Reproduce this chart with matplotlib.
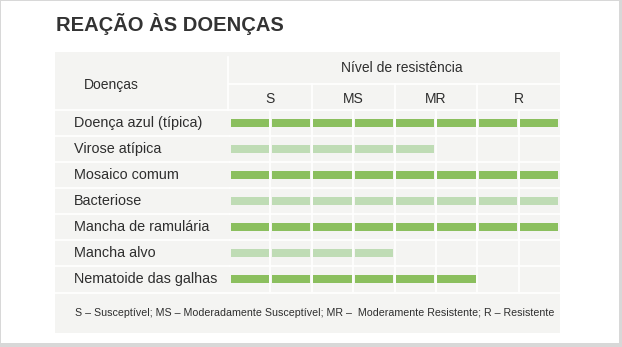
import matplotlib
matplotlib.use("Agg")
import matplotlib.pyplot as plt
from matplotlib.patches import Rectangle
from matplotlib.transforms import blended_transform_factory

plt.rcParams['font.family'] = ['Liberation Sans', 'DejaVu Sans']

title = "REAÇÃO ÀS DOENÇAS"
diseases = ["Doença azul (típica)", "Virose atípica", "Mosaico comum", "Bacteriose",
            "Mancha de ramulária", "Mancha alvo", "Nematoide das galhas"]
# filled segments per disease (two segments per resistance level)
segments = [8, 5, 8, 8, 8, 4, 6]
levels = ["S", "MS", "MR", "R"]
header_left = "Doenças"
header_top = "Nível de resistência"
footnote = ("S – Susceptível; MS – Moderadamente Susceptível; MR –  "
            "Moderamente Resistente; R – Resistente")

dark_green = "#8bbf5e"
light_green = "#bfdcb5"
cell_bg = "#f4f4f2"
text_col = "#2e2e2e"

W, H = 622, 347
fig = plt.figure(figsize=(W / 100, H / 100), dpi=100, facecolor="#d8d8d8")
ax = fig.add_axes([0, 0, 1, 1])
ax.set_xlim(0, W)
ax.set_ylim(H, 0)
ax.axis("off")

# slide
ax.add_patch(Rectangle((1, 1), 618, 342, facecolor="white", edgecolor="none"))
ax.text(56, 31, title, fontsize=14.5, fontweight="bold", color="#333333", va="baseline")

# table layout (pixels)
tx0, tx1 = 55, 560
bx0 = 229
ty0, hy1, hy2, by1, fy1 = 52, 84, 110, 292, 333
ax.add_patch(Rectangle((tx0, ty0), tx1 - tx0, fy1 - ty0, facecolor=cell_bg, edgecolor="none"))

lw = 1.2
ax.plot([bx0 - 1, bx0 - 1], [ty0 + 5, hy2], color="white", lw=lw)
ax.plot([bx0, tx1], [hy1, hy1], color="white", lw=lw)
ax.plot([tx0, tx1], [hy2, hy2], color="white", lw=lw)
seg_w = (tx1 - bx0) / 8
for g in range(1, 4):
    xg = bx0 + 2 * g * seg_w
    ax.plot([xg, xg], [hy1, hy2], color="white", lw=lw)

ax.text(111, 89, header_left, fontsize=10, color=text_col, ha="center", va="baseline")
ax.text(402, 72, header_top, fontsize=10, color=text_col, ha="center", va="baseline")
for g, lab in enumerate(levels):
    ax.text(bx0 + (2 * g + 1) * seg_w, 103, lab, fontsize=10, color=text_col,
            ha="center", va="baseline")

ax.plot([tx0, tx1], [by1 + 1, by1 + 1], color="white", lw=lw)
ax.text(75, 316, footnote, fontsize=7.7, color=text_col, va="baseline")

# bar area
bax = fig.add_axes([bx0 / W, (H - by1) / H, (tx1 - bx0) / W, (by1 - hy2) / H])
bax.set_xlim(0, 8)
bax.set_ylim(len(diseases), 0)
bax.axis("off")
bax.patch.set_alpha(0)

n = len(diseases)
for k in range(1, 8):
    bax.plot([k, k], [0, n], color="white", lw=lw)
for r in range(1, n):
    bax.plot([0, 8], [r, r], color="white", lw=lw)

gap = 0.075
for i, cnt in enumerate(segments):
    col = dark_green if i % 2 == 0 else light_green
    for k in range(cnt):
        bax.barh(i + 0.5, 1 - gap, left=k + gap / 2, height=0.27, color=col, lw=0)

# row labels and separators in the label column
tr = blended_transform_factory(ax.transData, bax.transData)
for i, name in enumerate(diseases):
    ax.text(74, i + 0.5 + 0.17, name, fontsize=10.4, color=text_col, va="baseline",
            transform=tr)
    if i > 0:
        ax.plot([tx0, bx0], [i, i], color="white", lw=lw, transform=tr)

fig.savefig("out.png", dpi=100, facecolor=fig.get_facecolor())
